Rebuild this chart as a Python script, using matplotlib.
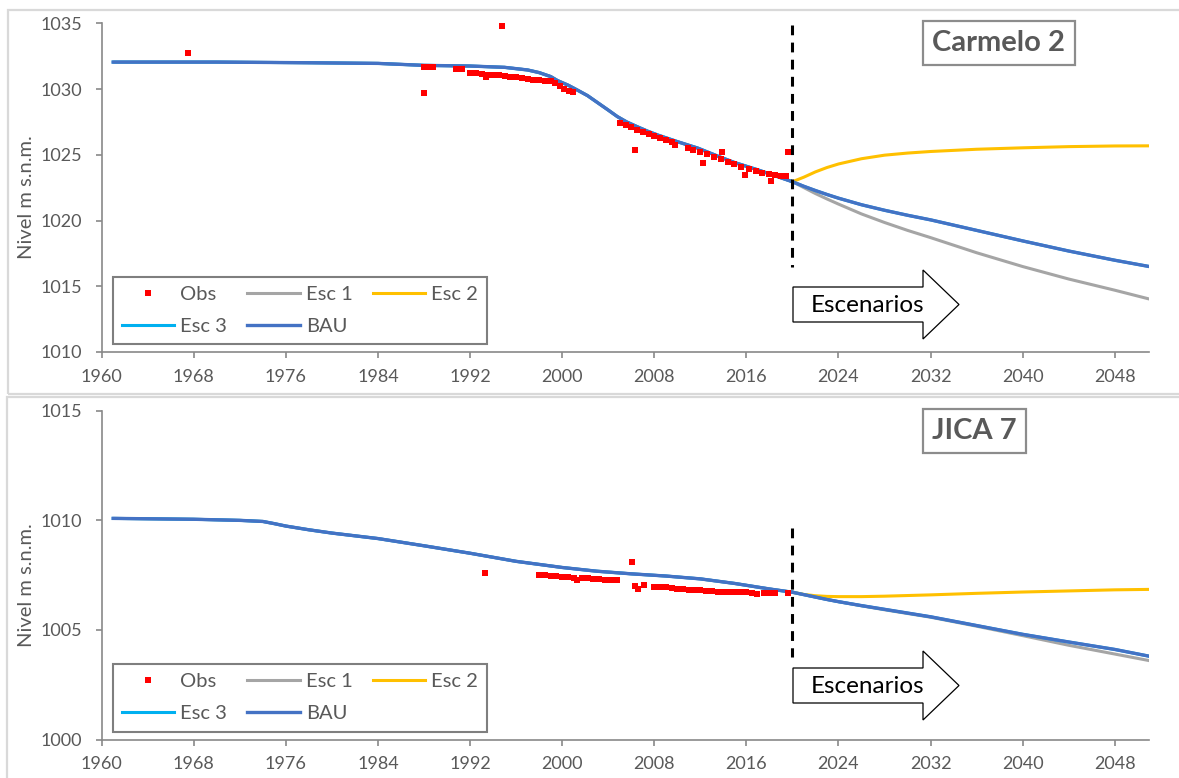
import matplotlib
matplotlib.use('Agg')
import matplotlib.pyplot as plt
from matplotlib.patches import Rectangle, Polygon

plt.rcParams['font.family'] = ['Lato', 'DejaVu Sans']

W, H = 1179, 778

# ---------------- Carmelo 2 ----------------
c2_hist_years = [1961, 1970, 1978, 1984, 1988, 1992, 1995, 1997, 1998, 1999, 1999.6, 2000.5,
                 2001.3, 2002.2, 2003.1, 2004, 2004.8, 2005.6, 2006.5, 2007.4, 2008.3, 2010,
                 2011.8, 2013.5, 2015, 2017, 2018.5, 2020]
c2_hist = [1032.05, 1032.05, 1032.0, 1031.95, 1031.8, 1031.75, 1031.65, 1031.45, 1031.25, 1030.95,
           1030.64, 1030.3, 1029.93, 1029.5, 1028.95, 1028.4, 1027.9, 1027.5, 1027.14, 1026.8,
           1026.5, 1026.0, 1025.5, 1024.9, 1024.4, 1023.85, 1023.4, 1022.95]

c2_fut_years = [2020, 2021, 2022, 2023, 2024, 2026, 2028, 2030, 2032, 2036, 2040, 2044, 2048, 2051]
c2_bau = [1022.95, 1022.6, 1022.28, 1021.98, 1021.7, 1021.2, 1020.78, 1020.4, 1020.05, 1019.25,
          1018.45, 1017.68, 1016.98, 1016.5]
c2_esc1 = [1022.95, 1022.5, 1022.05, 1021.64, 1021.25, 1020.5, 1019.85, 1019.25, 1018.7, 1017.55,
           1016.5, 1015.55, 1014.7, 1014.03]
c2_esc2 = [1022.95, 1023.3, 1023.7, 1024.03, 1024.3, 1024.7, 1024.97, 1025.13, 1025.25, 1025.42,
           1025.53, 1025.62, 1025.67, 1025.68]
c2_esc3 = c2_bau

c2_obs_years = [1967.5, 1988.0, 1988.0, 1988.4, 1988.8, 1990.8, 1991.3,
                1992.0, 1992.5, 1993.0, 1993.4, 1993.5, 1994.0, 1994.5, 1994.8, 1995.0, 1995.5,
                1996.0, 1996.5, 1997.0, 1997.5, 1998.0, 1998.5, 1999.0, 1999.4, 1999.8,
                2000.2, 2000.6, 2000.9,
                2005.0, 2005.5, 2006.0, 2006.3, 2006.5, 2007.0, 2007.5, 2008.0, 2008.5, 2009.0,
                2009.5, 2009.8, 2010.9, 2011.4, 2012.0, 2012.2, 2012.6, 2013.2, 2013.8, 2013.9,
                2014.4, 2014.9, 2015.5, 2015.9, 2016.2, 2016.8, 2017.4, 2018.0, 2018.1, 2018.5,
                2019.0, 2019.4, 2019.6]
c2_obs = [1032.77, 1029.72, 1031.7, 1031.7, 1031.7, 1031.5, 1031.5,
          1031.25, 1031.2, 1031.15, 1030.95, 1031.1, 1031.08, 1031.05, 1034.8, 1031.0, 1030.95,
          1030.9, 1030.82, 1030.78, 1030.72, 1030.68, 1030.63, 1030.58, 1030.45, 1030.2,
          1030.0, 1029.85, 1029.8,
          1027.4, 1027.27, 1027.1, 1025.37, 1026.92, 1026.74, 1026.6, 1026.43, 1026.28, 1026.12,
          1025.95, 1025.77, 1025.49, 1025.37, 1025.24, 1024.4, 1025.06, 1024.81, 1024.66, 1025.24,
          1024.48, 1024.3, 1024.1, 1023.5, 1023.95, 1023.8, 1023.65, 1023.55, 1023.03, 1023.48,
          1023.4, 1023.38, 1025.2]

# ---------------- JICA 7 ----------------
j7_hist_years = [1961, 1968, 1972, 1974, 1975, 1976, 1978, 1980, 1984, 1988, 1992, 1996, 2000,
                 2003, 2006, 2009, 2012, 2015, 2018, 2020]
j7_hist = [1010.09, 1010.05, 1010.0, 1009.95, 1009.85, 1009.74, 1009.57, 1009.42, 1009.17,
           1008.84, 1008.5, 1008.13, 1007.85, 1007.68, 1007.56, 1007.46, 1007.33, 1007.12,
           1006.87, 1006.72]

j7_fut_years = [2020, 2021, 2022, 2023, 2024, 2026, 2028, 2032, 2036, 2040, 2044, 2048, 2051]
j7_bau = [1006.72, 1006.61, 1006.5, 1006.39, 1006.29, 1006.11, 1005.94, 1005.6, 1005.2, 1004.8,
          1004.45, 1004.11, 1003.8]
j7_esc1 = [1006.72, 1006.61, 1006.5, 1006.39, 1006.29, 1006.1, 1005.92, 1005.58, 1005.17,
           1004.74, 1004.3, 1003.9, 1003.6]
j7_esc2 = [1006.72, 1006.62, 1006.56, 1006.53, 1006.52, 1006.52, 1006.54, 1006.6, 1006.67,
           1006.73, 1006.78, 1006.83, 1006.85]
j7_esc3 = j7_bau

j7_obs_years = [1993.3, 1998.0, 1998.5, 1999.0, 1999.5, 2000.0, 2000.5, 2001.0, 2001.3, 2001.7,
                2002.2, 2002.7, 2003.2, 2003.7, 2004.2, 2004.8, 2006.1, 2006.3, 2006.6, 2007.1,
                2008.0, 2008.5, 2009.0, 2009.5, 2010.0, 2010.5, 2011.0, 2011.5, 2012.0, 2012.5,
                2013.0, 2013.5, 2014.0, 2014.5, 2015.0, 2015.5, 2016.0, 2016.5, 2016.9, 2017.5,
                2018.0, 2018.5, 2019.6]
j7_obs = [1007.61, 1007.52, 1007.5, 1007.47, 1007.45, 1007.43, 1007.42, 1007.38, 1007.27, 1007.35,
          1007.35, 1007.33, 1007.32, 1007.3, 1007.28, 1007.3, 1008.11, 1007.01, 1006.85, 1007.05,
          1006.97, 1006.97, 1006.96, 1006.92, 1006.87, 1006.85, 1006.84, 1006.82, 1006.8, 1006.79,
          1006.77, 1006.75, 1006.74, 1006.74, 1006.74, 1006.74, 1006.73, 1006.68, 1006.63, 1006.69,
          1006.68, 1006.67, 1006.69]

x_ticks = list(range(1960, 2049, 8))
start_year = 2020

GRAY_TXT = '#595959'
SPINE = '#898989'
C_OBS = '#FF0000'
C_ESC1 = '#A5A5A5'
C_ESC2 = '#FFC000'
C_ESC3 = '#00B0F0'
C_BAU = '#4472C4'


def px(x, y):
    return x / W, 1 - y / H


fig = plt.figure(figsize=(W / 100, H / 100), dpi=100)

# panel frames
for (x0, y0, x1, y1) in [(8, 10, 1190, 394), (7, 397, 1190, 790)]:
    fx0, fy1 = px(x0, y0)
    fx1, fy0 = px(x1, y1)
    fig.patches.append(Rectangle((fx0, fy0), fx1 - fx0, fy1 - fy0, transform=fig.transFigure,
                                 fill=False, edgecolor='#d9d9d9', lw=1.6))


def draw_panel(top, ylim, hy, hv, fy, bau, e1, e2, e3, oy, ov, dash_y, title, title_y, arrow_top):
    ax_l, ax_r = 101.7, 1149.3
    ax_t, ax_b = top, top + 328.7
    ax = fig.add_axes([ax_l / W, 1 - ax_b / H, (ax_r - ax_l) / W, (ax_b - ax_t) / H])

    ax.plot(hy, hv, color=C_ESC1, lw=2.2, solid_capstyle='butt')
    l1, = ax.plot(fy, e1, color=C_ESC1, lw=2.2, label='Esc 1')
    l2, = ax.plot(fy, e2, color=C_ESC2, lw=2.2, label='Esc 2')
    ax.plot(hy, hv, color=C_ESC3, lw=2.2)
    l3, = ax.plot(fy, e3, color=C_ESC3, lw=2.2, label='Esc 3')
    ax.plot(hy, hv, color=C_BAU, lw=2.4)
    l4, = ax.plot(fy, bau, color=C_BAU, lw=2.4, label='BAU')
    lo, = ax.plot(oy, ov, 's', color=C_OBS, ms=4.8, mew=0, ls='none', label='Obs', zorder=5)

    ax.plot([start_year, start_year], dash_y, color='black', lw=2.2, dashes=(3.2, 2.4), zorder=6)

    ax.set_xlim(1960, 2051)
    ax.set_ylim(*ylim)
    ax.set_xticks(x_ticks)
    ax.set_yticks(range(ylim[0], ylim[1] + 1, 5))
    for s in ['top', 'right']:
        ax.spines[s].set_visible(False)
    for s in ['left', 'bottom']:
        ax.spines[s].set_color(SPINE)
        ax.spines[s].set_linewidth(1.2)
    ax.tick_params(axis='both', direction='out', length=4, width=1.2, color=SPINE,
                   labelcolor=GRAY_TXT, labelsize=13)
    ax.tick_params(axis='x', pad=8)
    ax.tick_params(axis='y', pad=10)
    ax.set_ylabel('Nivel m s.n.m.', color=GRAY_TXT, fontsize=14.5)
    ax.yaxis.set_label_coords(-0.064, 0.47)

    leg = ax.legend([lo, l3, l1, l4, l2], ['Obs', 'Esc 3', 'Esc 1', 'BAU', 'Esc 2'], ncol=3,
                    loc='lower left', bbox_to_anchor=(0.0108, 0.0243), borderaxespad=0,
                    fontsize=14.5, handlelength=2.6, handletextpad=0.3, columnspacing=1.0,
                    labelspacing=0.75, borderpad=0.45, numpoints=1, fancybox=False,
                    framealpha=1, edgecolor='#7f7f7f')
    leg.get_frame().set_linewidth(1.5)
    for t in leg.get_texts():
        t.set_color(GRAY_TXT)

    # title box
    fig.text(932.5 / W, 1 - title_y / H, title, fontsize=21, fontweight='bold', color=GRAY_TXT,
             ha='left', va='center',
             bbox=dict(boxstyle='square,pad=0.32', facecolor='white', edgecolor='#8c8c8c', lw=1.6))

    # "Escenarios" arrow
    bx0, bx1, tip = 793, 923, 959
    by0, by1 = arrow_top + 17, arrow_top + 52
    hy0, hy1 = arrow_top, arrow_top + 69
    pts = [px(bx0, by0), px(bx1, by0), px(bx1, hy0), px(tip, (hy0 + hy1) / 2),
           px(bx1, hy1), px(bx1, by1), px(bx0, by1)]
    fig.patches.append(Polygon(pts, closed=True, transform=fig.transFigure, facecolor='white',
                               edgecolor='black', lw=0.9))
    fig.text(867.5 / W, 1 - ((by0 + by1) / 2 + 1) / H, 'Escenarios', fontsize=17.5, color='black',
             ha='center', va='center')
    return ax


draw_panel(23.3, (1010, 1035), c2_hist_years, c2_hist, c2_fut_years, c2_bau, c2_esc1, c2_esc2,
           c2_esc3, c2_obs_years, c2_obs, [1034.9, 1016.5], 'Carmelo 2', 43, 270)
draw_panel(410.8, (1000, 1015), j7_hist_years, j7_hist, j7_fut_years, j7_bau, j7_esc1, j7_esc2,
           j7_esc3, j7_obs_years, j7_obs, [1009.64, 1003.75], 'JICA 7', 431, 651)

fig.savefig('out.png', dpi=100, facecolor='white')
